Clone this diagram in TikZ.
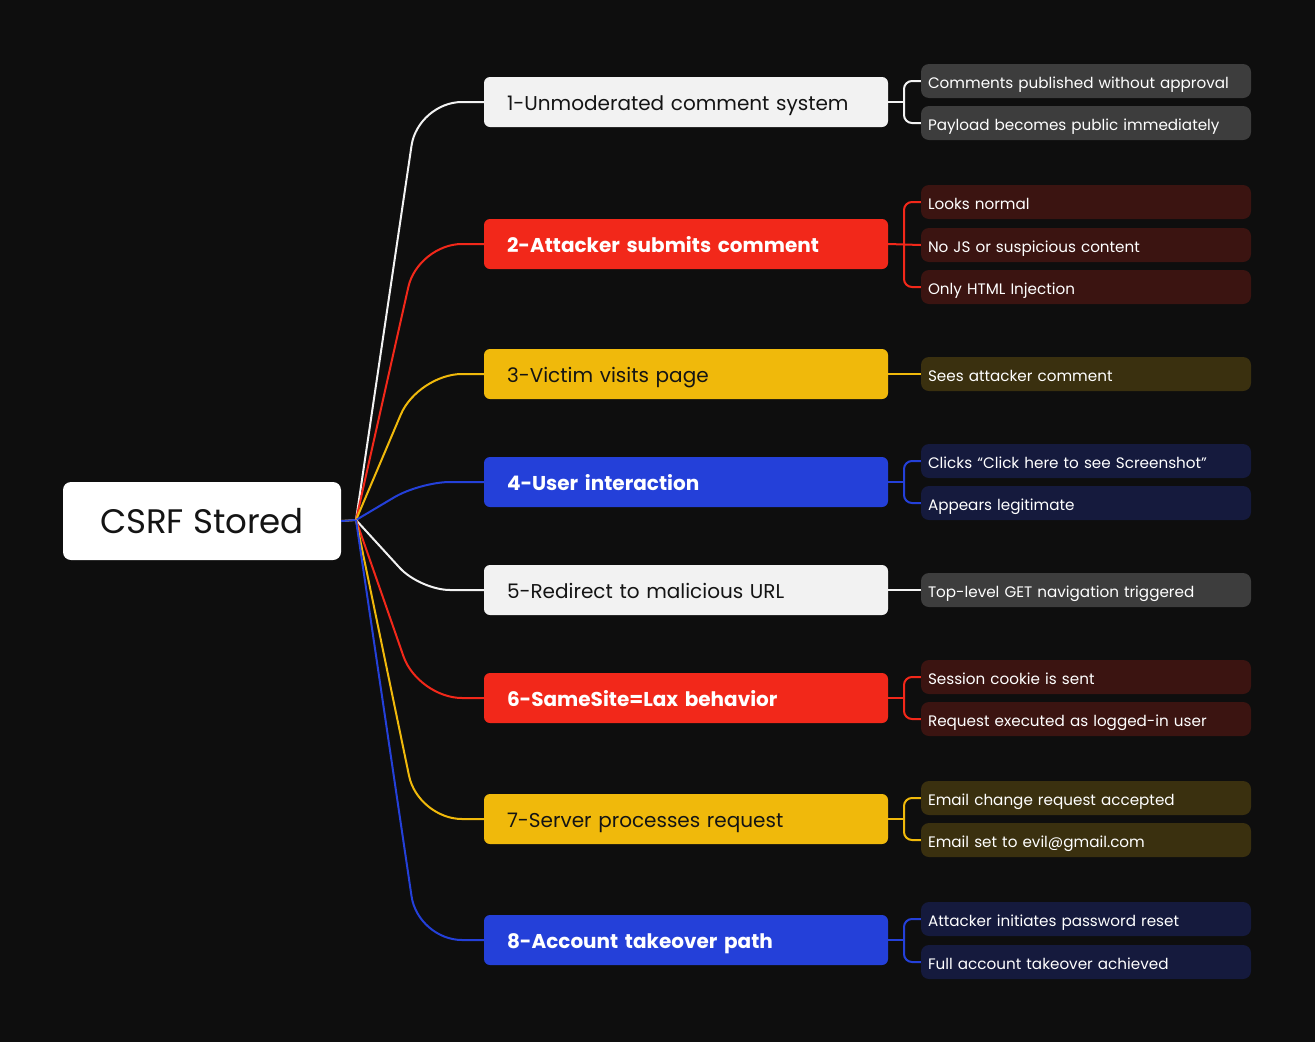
\documentclass[tikz,border=0pt]{standalone}
\usepackage{fontspec}
\setmainfont{Poppins}
\definecolor{bg}{HTML}{0E0E0E}
\definecolor{cw}{HTML}{F2F2F2}
\definecolor{cr}{HTML}{F2281A}
\definecolor{cy}{HTML}{F0B90B}
\definecolor{cb}{HTML}{2440D9}
\definecolor{lw}{HTML}{3D3D3D}
\definecolor{lr}{HTML}{3B1411}
\definecolor{ly}{HTML}{3A300F}
\definecolor{lb}{HTML}{151A3D}
\definecolor{ink}{HTML}{141414}
\tikzset{
  rootbox/.style={fill=white, rounded corners=8pt, minimum width=278pt, minimum height=78pt, inner sep=0pt, text=ink, font=\fontsize{34}{38}\selectfont},
  mainbox/.style={rounded corners=6pt, minimum width=404pt, minimum height=50pt, inner sep=0pt, text width=358pt, text height=20pt, text depth=4pt, align=left, font=\fontsize{20}{24}\selectfont},
  boldtext/.style={font=\fontsize{20}{24}\selectfont\bfseries},
  leafbox/.style={rounded corners=8pt, minimum width=330pt, minimum height=34pt, inner sep=0pt, text width=316pt, text height=17pt, text depth=3pt, align=left, text=white, font=\fontsize{15.2}{18}\selectfont},
  conn/.style={line width=2pt},
  br/.style={line width=2pt, rounded corners=8pt},
  trunk/.style={line width=2pt, rounded corners=44pt},
}
\begin{document}
\begin{tikzpicture}[x=1pt,y=-1pt]
\useasboundingbox[fill=bg] (0,0) rectangle (1315,1042);
\node[rootbox] (root) at (202,521) {CSRF Stored};
\coordinate (hub) at (356,520);
% level 1
\node[mainbox, fill=cw, text=ink] (m1) at (686,102) {1-Unmoderated comment system};
\node[mainbox, boldtext, fill=cr, text=white] (m2) at (686,244) {2-Attacker submits comment};
\node[mainbox, fill=cy, text=ink] (m3) at (686,374) {3-Victim visits page};
\node[mainbox, boldtext, fill=cb, text=white] (m4) at (686,482) {4-User interaction};
\node[mainbox, fill=cw, text=ink] (m5) at (686,590) {5-Redirect to malicious URL};
\node[mainbox, boldtext, fill=cr, text=white] (m6) at (686,698) {6-SameSite=Lax behavior};
\node[mainbox, fill=cy, text=ink] (m7) at (686,819) {7-Server processes request};
\node[mainbox, boldtext, fill=cb, text=white] (m8) at (686,940) {8-Account takeover path};
% leaves
\node[leafbox, fill=lw] (l1a) at (1086,81) {Comments published without approval};
\node[leafbox, fill=lw] (l1b) at (1086,123) {Payload becomes public immediately};
\node[leafbox, fill=lr] (l2a) at (1086,202) {Looks normal};
\node[leafbox, fill=lr] (l2b) at (1086,245) {No JS or suspicious content};
\node[leafbox, fill=lr] (l2c) at (1086,287) {Only HTML Injection};
\node[leafbox, fill=ly] (l3a) at (1086,374) {Sees attacker comment};
\node[leafbox, fill=lb] (l4a) at (1086,461) {Clicks “Click here to see Screenshot”};
\node[leafbox, fill=lb] (l4b) at (1086,503) {Appears legitimate};
\node[leafbox, fill=lw] (l5a) at (1086,590) {Top-level GET navigation triggered};
\node[leafbox, fill=lr] (l6a) at (1086,677) {Session cookie is sent};
\node[leafbox, fill=lr] (l6b) at (1086,719) {Request executed as logged-in user};
\node[leafbox, fill=ly] (l7a) at (1086,798) {Email change request accepted};
\node[leafbox, fill=ly] (l7b) at (1086,840) {Email set to evil@gmail.com};
\node[leafbox, fill=lb] (l8a) at (1086,919) {Attacker initiates password reset};
\node[leafbox, fill=lb] (l8b) at (1086,962) {Full account takeover achieved};
% trunk connectors
\draw[conn, cy] (root.east) -- (hub);
\draw[conn, cb] (root.east) -- (hub);
\draw[trunk, cw] (hub) -- (418,102) -- (m1.west);
\draw[trunk, cr] (hub) -- (418,244) -- (m2.west);
\draw[trunk, cy] (hub) -- (418,374) -- (m3.west);
\draw[trunk, cb, rounded corners=30pt] (hub) -- (420,482) -- (m4.west);
\draw[trunk, cw, rounded corners=30pt] (hub) -- (420,590) -- (m5.west);
\draw[trunk, cr] (hub) -- (418,698) -- (m6.west);
\draw[trunk, cy] (hub) -- (418,819) -- (m7.west);
\draw[trunk, cb] (hub) -- (418,940) -- (m8.west);
% branch connectors
\draw[conn, cw] (m1.east) -- (904,102);
\draw[br, cw] (904,102) |- (l1a.west);
\draw[br, cw] (904,102) |- (l1b.west);
\draw[conn, cr] (m2.east) -- (l2b.west);
\draw[br, cr] (904,244) |- (l2a.west);
\draw[br, cr] (904,244) |- (l2c.west);
\draw[conn, cy] (m3.east) -- (l3a.west);
\draw[conn, cb] (m4.east) -- (904,482);
\draw[br, cb] (904,482) |- (l4a.west);
\draw[br, cb] (904,482) |- (l4b.west);
\draw[conn, cw] (m5.east) -- (l5a.west);
\draw[conn, cr] (m6.east) -- (904,698);
\draw[br, cr] (904,698) |- (l6a.west);
\draw[br, cr] (904,698) |- (l6b.west);
\draw[conn, cy] (m7.east) -- (904,819);
\draw[br, cy] (904,819) |- (l7a.west);
\draw[br, cy] (904,819) |- (l7b.west);
\draw[conn, cb] (m8.east) -- (904,940);
\draw[br, cb] (904,940) |- (l8a.west);
\draw[br, cb] (904,940) |- (l8b.west);
\end{tikzpicture}
\end{document}
